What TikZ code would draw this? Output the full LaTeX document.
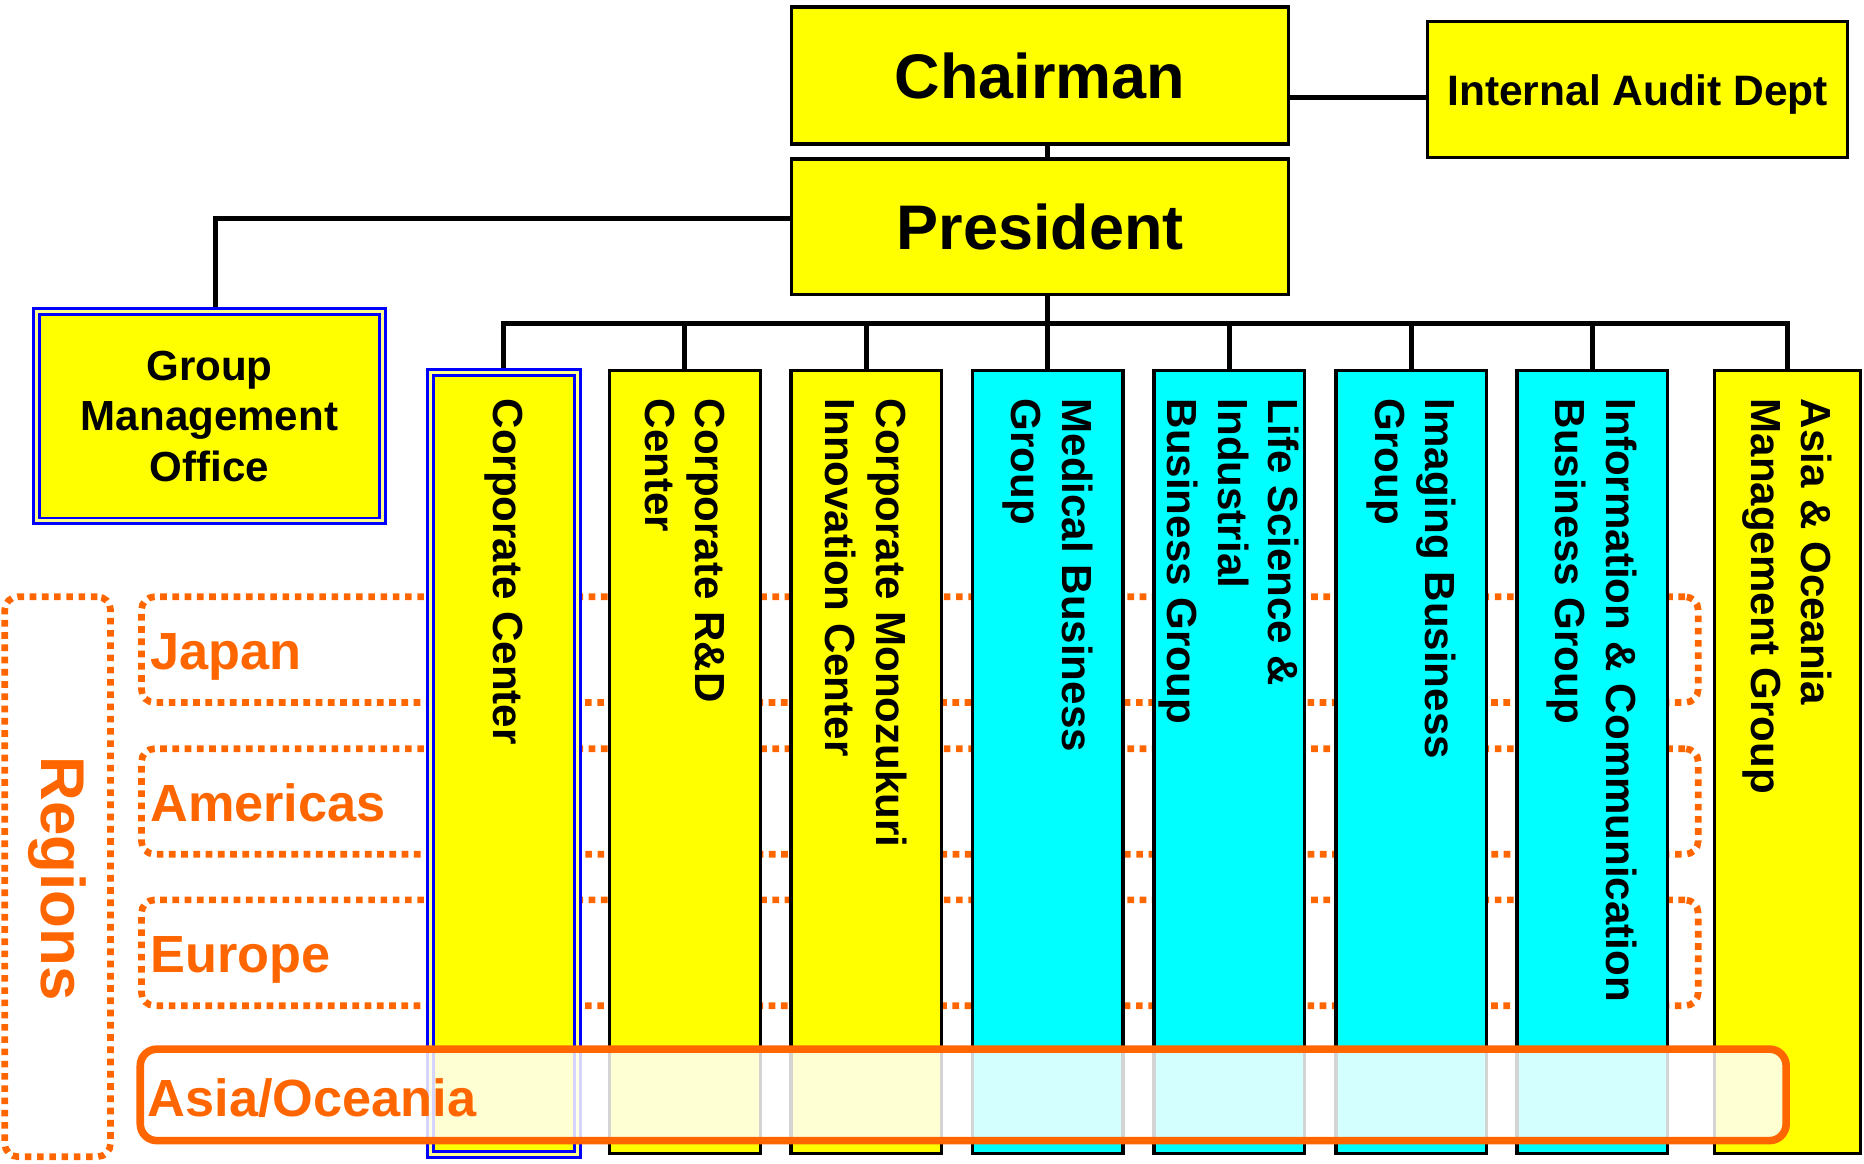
\documentclass[tikz,border=0pt]{standalone}
\usepackage{fontspec}
\setmainfont{Liberation Sans}
\usetikzlibrary{calc}
\definecolor{ylw}{HTML}{FFFF00}
\definecolor{cyn}{HTML}{00FFFF}
\definecolor{blu}{HTML}{0000FF}
\definecolor{org}{HTML}{FF6600}
\pgfdeclarelayer{bg}
\pgfsetlayers{bg,main}
\tikzset{
  conn/.style={draw=black, line width=2.1pt},
  plainbox/.style={draw=black, line width=1.4pt, inner sep=0pt, outer sep=0pt},
  dblbox/.style={draw=blu, double=ylw!45!white, line width=1.25pt, double distance=1.25pt, fill=ylw, inner sep=0pt, outer sep=0pt},
  bigtxt/.style={font=\fontsize{26.5pt}{31.8pt}\selectfont\bfseries},
  midtxt/.style={font=\fontsize{17.7pt}{21.3pt}\selectfont\bfseries},
  coltxt/.style={midtxt, rotate=-90, anchor=west, align=left, inner sep=0pt},
  colbox/.style={plainbox, minimum width=63.25pt, minimum height=329.5pt},
  regbox/.style={draw=org, line width=2.8pt, dash pattern=on 2.8pt off 2.35pt, rounded corners=5.5pt, inner sep=0pt, outer sep=0pt},
  reglbl/.style={text=org, font=\fontsize{22pt}{26pt}\selectfont\bfseries, anchor=base west, inner sep=0pt},
}
\begin{document}
\begin{tikzpicture}[x=0.5pt, y=-0.5pt]
\useasboundingbox (0,0) rectangle (1568,979);

% top boxes
\node[plainbox, fill=ylw, minimum width=209pt, minimum height=57.5pt, bigtxt] (chair) at (875,63.5) {Chairman};
\node[plainbox, fill=ylw, minimum width=209pt, minimum height=57pt, bigtxt] (pres) at (875,190.7) {President};
\node[plainbox, fill=ylw, minimum width=176.5pt, minimum height=57.15pt, midtxt, font=\fontsize{17.9pt}{21.5pt}\selectfont\bfseries, text depth=0pt] (audit) at (1377.5,75.5) {Internal Audit Dept};
\node[dblbox, minimum width=145.8pt, minimum height=88pt, midtxt, align=center] (gmo) at (176.2,350.25) {Group\\Management\\Office};

% columns
\node[dblbox, minimum width=62.1pt, minimum height=329pt] (c1) at (423.9,642.1) {};
\node[colbox, fill=ylw] (c2) at (576.2,641) {};
\node[colbox, fill=ylw] (c3) at (728.5,641) {};
\node[colbox, fill=cyn] (c4) at (881.5,641) {};
\node[colbox, fill=cyn] (c5) at (1033.9,641) {};
\node[colbox, fill=cyn] (c6) at (1187.2,641) {};
\node[colbox, fill=cyn] (c7) at (1339.2,641) {};
\node[colbox, fill=ylw, minimum width=61.5pt] (c8) at (1503.5,641) {};

\node[coltxt] (t1) at ($(c1.north |- 0,335)$) {Corporate Center};
\node[coltxt] (t2) at ($(c2.north |- 0,335)$) {Corporate R\&D\\Center};
\node[coltxt] (t3) at ($(c3.north |- 0,335)$) {Corporate Monozukuri\\Innovation Center};
\node[coltxt] (t4) at ($(c4.north |- 0,335)$) {Medical Business\\Group};
\node[coltxt] (t5) at ($(c5.north |- 0,335)$) {Life Science \&\\Industrial\\Business Group};
\node[coltxt] (t6) at ($(c6.north |- 0,335)$) {Imaging Business\\Group};
\node[coltxt] (t7) at ($(c7.north |- 0,335)$) {Information \& Communication\\Business Group};
\node[coltxt] (t8) at ($(c8.north |- 0,335)$) {Asia \& Oceania\\Management Group};

\coordinate (bus) at (881.5,272.5);
\coordinate (gmoc) at (181.6,184.2);
\coordinate (audl) at (0,82.2);

\begin{pgfonlayer}{bg}
  % region boxes (behind columns)
  \node[regbox, minimum width=654.75pt, minimum height=44.5pt] (jpbox) at (773.75,546.5) {};
  \node[regbox, minimum width=654.75pt, minimum height=44.4pt] (ambox) at (773.75,674.2) {};
  \node[regbox, minimum width=654.75pt, minimum height=44.5pt] (eubox) at (773.75,801.5) {};
  \node[regbox, minimum width=44.5pt, minimum height=235.5pt] (rgbox) at (48.5,737.5) {};
  % connectors
  \draw[conn] (chair.east |- audl) -- (audit.west |- audl);
  \draw[conn] (chair.south -| bus) -- (pres.north -| bus);
  \draw[conn] (pres.south -| bus) -- (bus);
  \draw[conn] (c1.north) -- (c1.north |- bus) -- (c8.north |- bus) -- (c8.north);
  \draw[conn] (c2.north) -- (c2.north |- bus);
  \draw[conn] (c3.north) -- (c3.north |- bus);
  \draw[conn] (c4.north) -- (c4.north |- bus);
  \draw[conn] (c5.north) -- (c5.north |- bus);
  \draw[conn] (c6.north) -- (c6.north |- bus);
  \draw[conn] (c7.north) -- (c7.north |- bus);
  \draw[conn] (pres.west |- gmoc) -- (gmoc) -- (gmoc |- gmo.north);
\end{pgfonlayer}

% Asia/Oceania overlay
\node[draw=org, line width=3.2pt, fill=white, fill opacity=0.83, rounded corners=7pt, minimum width=692.25pt, minimum height=38.5pt, inner sep=0pt, outer sep=0pt] (asbox) at (810.25,921) {};

% region labels
\node[reglbl] (jp) at (126,563) {Japan};
\node[reglbl] (am) at (126,691) {Americas};
\node[reglbl] (eu) at (126,818) {Europe};
\node[reglbl] (as) at (124,939) {Asia/Oceania};
\node[text=org, font=\fontsize{26pt}{31pt}\selectfont\bfseries, rotate=-90, inner sep=0pt] (rg) at (48,739) {Regions};
\end{tikzpicture}
\end{document}
